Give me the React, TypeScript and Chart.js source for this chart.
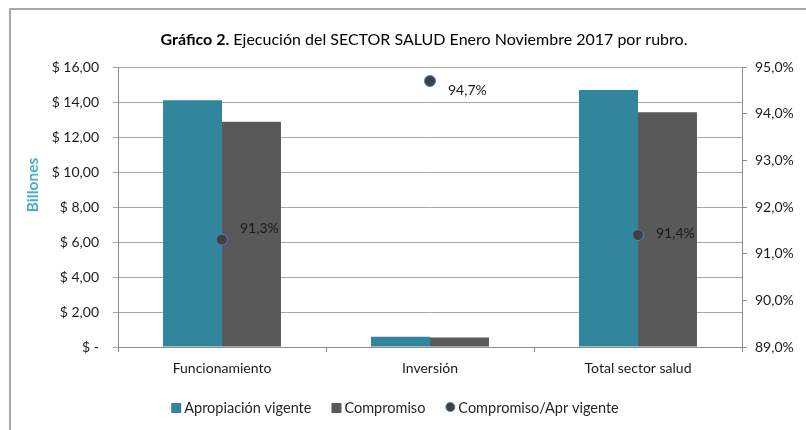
import React, { useEffect, useRef } from 'react';
import { Chart, registerables } from 'chart.js';

Chart.register(...registerables);

const categories = ['Funcionamiento', 'Inversión', 'Total sector salud'];
const apropiacion = [14.1, 0.58, 14.68];
const compromiso = [12.87, 0.55, 13.42];
const ratio = [91.3, 94.7, 91.4];
const ratioLabels = ['91,3%', '94,7%', '91,4%'];
const seriesNames = ['Apropiación vigente', 'Compromiso', 'Compromiso/Apr vigente'];
const titleBold = 'Gráfico 2.';
const titleRest = ' Ejecución del SECTOR SALUD Enero Noviembre 2017 por rubro.';
const yAxisTitle = 'Billones';

const FONT = 'Lato, "Noto Sans", sans-serif';
const TEAL = '#31859C';
const GRAY = '#595959';
const DOT = '#404040';
const DOT_BORDER = '#4F81BD';
const labelOffsets = [
  [18, -11],
  [18, 9],
  [18, -2],
];

const customPlugin = {
  id: 'custom',
  beforeDraw(chart: any) {
    const ctx = chart.ctx;
    ctx.save();
    ctx.fillStyle = '#fff';
    ctx.fillRect(0, 0, chart.width, chart.height);
    ctx.strokeStyle = '#A6A6A6';
    ctx.lineWidth = 2;
    ctx.beginPath();
    ctx.moveTo(10, chart.height);
    ctx.lineTo(10, 9);
    ctx.lineTo(chart.width, 9);
    ctx.stroke();
    ctx.restore();
  },
  afterDatasetsDraw(chart: any) {
    const ctx = chart.ctx;
    const meta = chart.getDatasetMeta(2);
    ctx.save();
    ctx.font = `14px ${FONT}`;
    ctx.fillStyle = '#1a1a1a';
    ctx.textAlign = 'left';
    ctx.textBaseline = 'middle';
    meta.data.forEach((pt: any, i: number) => {
      ctx.fillText(ratioLabels[i], pt.x + labelOffsets[i][0], pt.y + labelOffsets[i][1]);
    });
    ctx.restore();
  },
  afterDraw(chart: any) {
    const ctx = chart.ctx;
    ctx.save();
    // Title
    ctx.textBaseline = 'middle';
    ctx.fillStyle = '#000';
    ctx.font = `bold 16px ${FONT}`;
    const wb = ctx.measureText(titleBold).width;
    ctx.font = `16px ${FONT}`;
    const wr = ctx.measureText(titleRest).width;
    const tx = 424 - (wb + wr) / 2;
    ctx.font = `bold 16px ${FONT}`;
    ctx.textAlign = 'left';
    ctx.fillText(titleBold, tx, 40);
    ctx.font = `16px ${FONT}`;
    ctx.fillText(titleRest, tx + wb, 40);

    // Y axis title
    ctx.save();
    ctx.translate(33, 185);
    ctx.rotate(-Math.PI / 2);
    ctx.font = `bold 15.5px ${FONT}`;
    ctx.fillStyle = '#4BACC6';
    ctx.textAlign = 'center';
    ctx.fillText(yAxisTitle, 0, 0);
    ctx.restore();

    // Legend
    ctx.font = `14.5px ${FONT}`;
    ctx.textAlign = 'left';
    ctx.fillStyle = '#262626';
    const ly = 408;
    const widths = seriesNames.map((s) => ctx.measureText(s).width);
    const sym = 13;
    const gap = 20;
    const total = widths.reduce((a, b) => a + b, 0) + sym * 3 + gap * 2;
    let x = 395 - total / 2;
    seriesNames.forEach((name, i) => {
      if (i < 2) {
        ctx.fillStyle = i === 0 ? TEAL : GRAY;
        ctx.fillRect(x, ly - 5, 10, 10);
      } else {
        ctx.beginPath();
        ctx.arc(x + 5, ly - 1, 4.5, 0, Math.PI * 2);
        ctx.fillStyle = DOT;
        ctx.fill();
        ctx.lineWidth = 1;
        ctx.strokeStyle = DOT_BORDER;
        ctx.stroke();
      }
      ctx.fillStyle = '#262626';
      ctx.fillText(name, x + sym, ly);
      x += sym + widths[i] + gap;
    });
    ctx.restore();
  },
};

export default function App() {
  const ref = useRef<HTMLCanvasElement>(null);
  useEffect(() => {
    if (!ref.current) return;
    const chart = new Chart(ref.current, {
      data: {
        labels: categories,
        datasets: [
          {
            type: 'bar',
            label: seriesNames[0],
            data: apropiacion,
            backgroundColor: TEAL,
            borderWidth: 0,
            yAxisID: 'y',
            order: 2,
            barPercentage: 1,
            categoryPercentage: 0.567,
          },
          {
            type: 'bar',
            label: seriesNames[1],
            data: compromiso,
            backgroundColor: GRAY,
            borderWidth: 0,
            yAxisID: 'y',
            order: 2,
            barPercentage: 1,
            categoryPercentage: 0.567,
          },
          {
            type: 'line',
            label: seriesNames[2],
            data: ratio,
            showLine: false,
            yAxisID: 'y1',
            order: 0,
            pointRadius: 5.5,
            pointBackgroundColor: DOT,
            pointBorderColor: DOT_BORDER,
            pointBorderWidth: 1,
          },
        ],
      } as any,
      options: {
        animation: false,
        responsive: false,
        maintainAspectRatio: false,
        layout: { padding: { top: 67, left: 0, right: 0, bottom: 0 } },
        plugins: {
          legend: { display: false },
          title: { display: false },
          tooltip: { enabled: false },
        },
        scales: {
          x: {
            offset: true,
            grid: {
              offset: true,
              drawOnChartArea: false,
              drawTicks: true,
              tickLength: 5,
              color: '#8C8C8C',
            },
            border: { color: '#8C8C8C' },
            ticks: {
              font: { family: FONT, size: 14 },
              color: '#1a1a1a',
              padding: 8,
              maxRotation: 0,
            },
            afterFit(scale: any) {
              scale.height = 83;
            },
          },
          y: {
            position: 'left',
            min: 0,
            max: 16,
            ticks: {
              stepSize: 2,
              font: { family: FONT, size: 14 },
              color: '#1a1a1a',
              padding: 14,
              callback: (v: any) =>
                Number(v) === 0 ? '$ -' : '$ ' + Number(v).toFixed(2).replace('.', ','),
            },
            grid: { color: '#A6A6A6', tickLength: 5 },
            border: { color: '#8C8C8C' },
            afterFit(scale: any) {
              scale.width = 118;
            },
          },
          y1: {
            position: 'right',
            min: 89,
            max: 95,
            ticks: {
              stepSize: 1,
              font: { family: FONT, size: 14 },
              color: '#1a1a1a',
              padding: 8,
              callback: (v: any) => Number(v).toFixed(1).replace('.', ',') + '%',
            },
            grid: { drawOnChartArea: false, tickLength: 5, color: '#8C8C8C' },
            border: { color: '#8C8C8C' },
            afterFit(scale: any) {
              scale.width = 64;
            },
          },
        },
      } as any,
      plugins: [customPlugin],
    });
    return () => chart.destroy();
  }, []);
  return (
    <div style={{ position: 'fixed', left: 0, top: 0, width: 806, height: 430, background: '#fff' }}>
      <canvas ref={ref} width={806} height={430} style={{ width: 806, height: 430, display: 'block' }} />
    </div>
  );
}
